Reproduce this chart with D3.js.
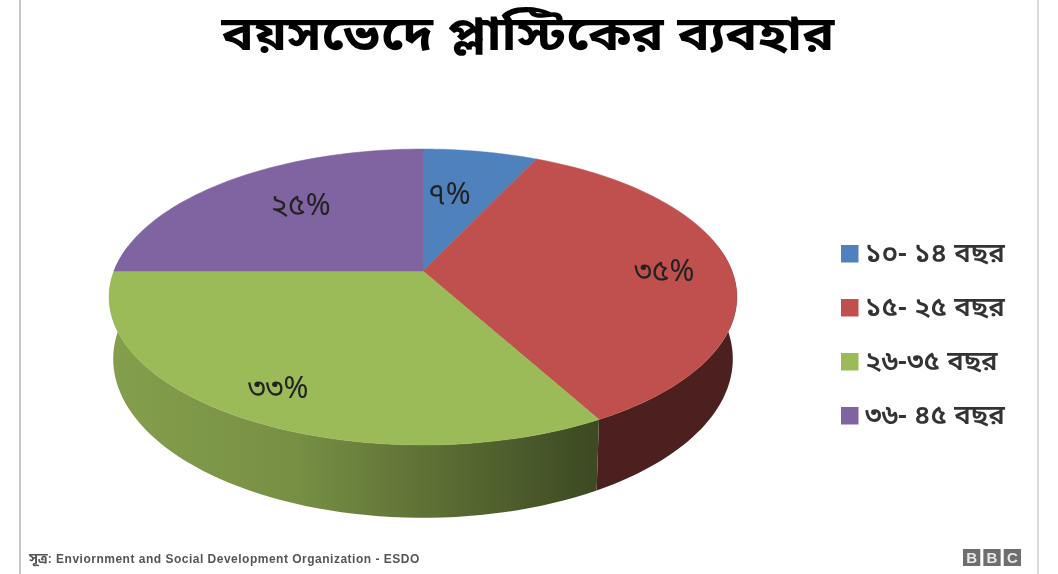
<!DOCTYPE html>
<html>
<head>
<meta charset="utf-8">
<script src="https://cdn.jsdelivr.net/npm/d3@7"></script>
<style>
  html, body { margin: 0; padding: 0; background: #fff; }
  svg { display: block; filter: blur(0.4px); }
</style>
</head>
<body>
<div id="chart"></div>
<script>
var titleText = "বয়সভেদে প্লাস্টিকের ব্যবহার";
var categories = ["১০- ১৪ বছর", "১৫- ২৫ বছর", "২৬-৩৫ বছর", "৩৬- ৪৫ বছর"];
var values = [7, 35, 33, 25];
var valueLabels = ["৭%", "৩৫%", "৩৩%", "২৫%"];
var colors = ["#4f81bd", "#c0504d", "#9bbb59", "#8064a2"];
var sourceText = ": Enviornment and Social Development Organization - ESDO";
var sourcePrefix = "সূত্র";
var logoLetters = ["B", "B", "C"];

var width = 1058, height = 574;
var bengaliFont = "'Noto Sans Bengali', 'Noto Serif Bengali', 'Lohit Bengali', 'FreeSerif', 'Noto Sans', sans-serif";

var svg = d3.select("#chart").append("svg")
    .attr("width", width)
    .attr("height", height);

// side panel lines
svg.append("line").attr("x1", 20).attr("x2", 20).attr("y1", 0).attr("y2", height)
    .attr("stroke", "#b5b5b5").attr("stroke-width", 1.5);
svg.append("line").attr("x1", 1038).attr("x2", 1038).attr("y1", 0).attr("y2", height)
    .attr("stroke", "#cfcfcf").attr("stroke-width", 1.5);

var defs = svg.append("defs");

// perspective of the disc: apex of the slices, and how much the front swells
var cx = 423, cy = 271, rx = 309, ry = 143.4, k = 0.1757, depth = 60, bottomShrink = 0.987;

function project(a) {
    var u = Math.sin(a), v = -Math.cos(a), w = 1 - k * v;
    return [cx + rx * u / w, cy + ry * v / w, depth / w];
}

function rim(a0, a1) {
    return d3.range(0, 61).map(function(i) {
        return project(a0 + (a1 - a0) * i / 60);
    });
}

var pie = d3.pie().sort(null).value(function(d) { return d; });
var arcs = pie(values);

var line = d3.line();

// side wall, only the part of the rim that faces us
var frontStart = Math.PI / 2 - 0.18, frontEnd = 3 * Math.PI / 2 + 0.18;

arcs.forEach(function(d, i) {
    var a0 = Math.max(d.startAngle, frontStart), a1 = Math.min(d.endAngle, frontEnd);
    if (a1 <= a0) return;
    var pts = rim(a0, a1);
    var top = pts.map(function(p) { return [p[0], p[1]]; });
    var bottom = pts.map(function(p) {
        return [cx + (p[0] - cx) * bottomShrink, p[1] + p[2]];
    }).reverse();
    var grad = defs.append("linearGradient").attr("id", "side" + i)
        .attr("gradientUnits", "userSpaceOnUse")
        .attr("x1", 109).attr("x2", 737).attr("y1", 0).attr("y2", 0);
    var c = d3.color(colors[i]);
    var stops = i === 2
        ? [[0, c.darker(0.45)], [0.3, c.darker(0.75)], [0.77, c.darker(2.6)], [1, c.darker(2.6)]]
        : [[0, c.darker(2.6)], [1, c.darker(2.6)]];
    stops.forEach(function(s) {
        grad.append("stop").attr("offset", s[0]).attr("stop-color", s[1]);
    });
    svg.append("path")
        .attr("d", line(top.concat(bottom)) + "Z")
        .attr("fill", "url(#side" + i + ")");
});

// top face
arcs.forEach(function(d, i) {
    var pts = rim(d.startAngle, d.endAngle).map(function(p) { return [p[0], p[1]]; });
    svg.append("path")
        .attr("d", line([[cx, cy]].concat(pts)) + "Z")
        .attr("fill", colors[i])
        .attr("stroke", colors[i])
        .attr("stroke-width", 0.5);
});

// value labels, placed along each slice's mid angle then nudged
var labelRadius = [0.72, 0.72, 0.62, 0.62];
var labelNudge = [[-15, 11], [20, 5], [-30, 29], [-2, -8]];
arcs.forEach(function(d, i) {
    var a = (d.startAngle + d.endAngle) / 2;
    var p = project(a);
    svg.append("text")
        .attr("x", cx + (p[0] - cx) * labelRadius[i] + labelNudge[i][0])
        .attr("y", cy + (p[1] - cy) * labelRadius[i] + labelNudge[i][1])
        .attr("text-anchor", "middle")
        .attr("dominant-baseline", "middle")
        .attr("font-family", bengaliFont)
        .attr("font-size", 30)
        .attr("fill", "#222")
        .text(valueLabels[i]);
});

// title, the installed face is taller than the original so squash it a bit
svg.append("text")
    .attr("transform", "translate(528,50) scale(1,0.87)")
    .attr("text-anchor", "middle")
    .attr("font-family", bengaliFont)
    .attr("font-size", 53.7)
    .attr("font-weight", "bold")
    .attr("fill", "#000")
    .text(titleText);

// legend
var legendY = d3.scalePoint().domain(categories).range([254, 416]);
var legend = svg.selectAll(".legend").data(categories).enter().append("g")
    .attr("class", "legend")
    .attr("transform", function(d) { return "translate(841," + legendY(d) + ")"; });
legend.append("rect")
    .attr("y", -9).attr("width", 17.5).attr("height", 17.5)
    .attr("fill", function(d, i) { return colors[i]; });
legend.append("text")
    .attr("x", 24).attr("y", 8)
    .attr("font-family", bengaliFont)
    .attr("font-size", 27.5)
    .attr("font-weight", 600)
    .attr("fill", "#333")
    .text(function(d) { return d; });

// source
var source = svg.append("text")
    .attr("x", 29).attr("y", 563)
    .attr("font-size", 12)
    .attr("fill", "#555");
source.append("tspan").attr("font-family", bengaliFont).attr("font-size", 14).attr("font-weight", "bold").text(sourcePrefix);
source.append("tspan").attr("font-family", "'Liberation Sans', Arial, sans-serif")
    .attr("font-weight", "bold")
    .attr("letter-spacing", 0.5)
    .text(sourceText);

// logo
var logoX = d3.scaleBand().domain(d3.range(logoLetters.length)).range([963, 1021]).paddingInner(0.15);
var logo = svg.selectAll(".logo").data(logoLetters).enter().append("g")
    .attr("class", "logo")
    .attr("transform", function(d, i) { return "translate(" + logoX(i) + ",549)"; });
logo.append("rect")
    .attr("width", logoX.bandwidth()).attr("height", 17)
    .attr("fill", "#6e6e6e");
logo.append("text")
    .attr("x", logoX.bandwidth() / 2).attr("y", 13.5)
    .attr("text-anchor", "middle")
    .attr("font-family", "'Liberation Sans', Arial, sans-serif")
    .attr("font-weight", "bold")
    .attr("font-size", 15)
    .attr("fill", "#e8e8e8")
    .text(function(d) { return d; });
</script>
</body>
</html>
